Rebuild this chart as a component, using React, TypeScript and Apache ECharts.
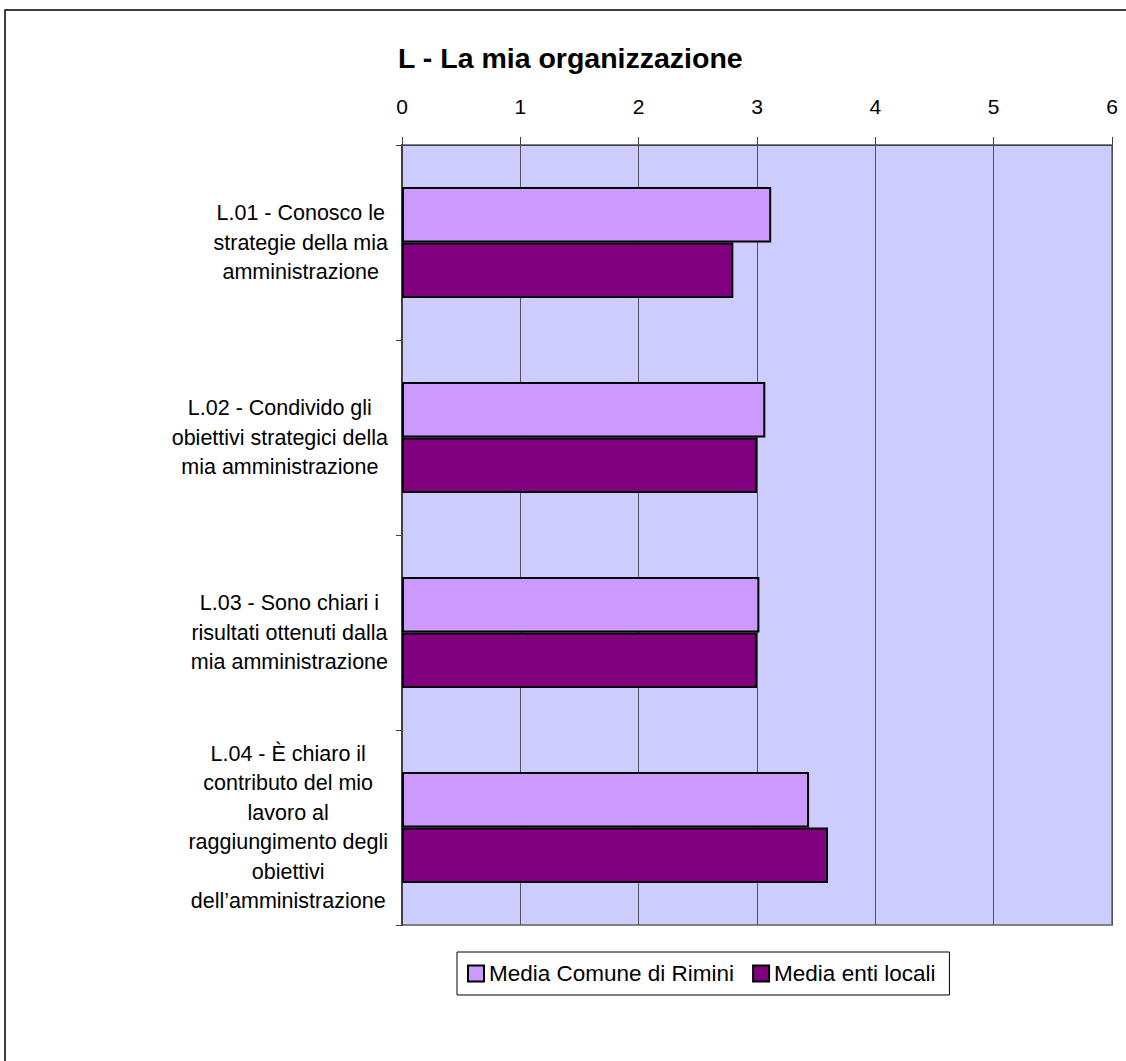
import React, { useEffect, useRef } from "react";
import * as echarts from "echarts";

const categories = [
  "L.01 - Conosco le strategie della mia amministrazione",
  "L.02 - Condivido gli obiettivi strategici della mia amministrazione",
  "L.03 - Sono chiari i risultati ottenuti dalla mia amministrazione",
  "L.04 - È chiaro il contributo del mio lavoro al raggiungimento degli obiettivi dell’amministrazione",
];
const categoryLines = [
  ["L.01 - Conosco le", "strategie della mia", "amministrazione"],
  ["L.02 - Condivido gli", "obiettivi strategici della", "mia amministrazione"],
  ["L.03 - Sono chiari i", "risultati ottenuti dalla", "mia amministrazione"],
  ["L.04 - È chiaro il", "contributo del mio", "lavoro al", "raggiungimento degli", "obiettivi", "dell’amministrazione"],
];
const seriesNames = ["Media Comune di Rimini", "Media enti locali"];
const rimini = [3.12, 3.07, 3.02, 3.44];
const entiLocali = [2.8, 3.0, 3.0, 3.6];
const xTicks = [0, 6, 1];
const titleText = "L - La mia organizzazione";

const FONT = "'Liberation Sans', Arial, sans-serif";

export default function App() {
  const ref = useRef<HTMLDivElement>(null);
  useEffect(() => {
    if (!ref.current) return;
    const chart = echarts.init(ref.current, undefined, { renderer: "svg" });
    chart.setOption({
      animation: false,
      backgroundColor: "#ffffff",
      textStyle: { fontFamily: FONT },
      title: {
        text: titleText,
        left: 398,
        top: 43,
        padding: 0,
        textStyle: { fontFamily: FONT, fontSize: 28.5, fontWeight: "bold", color: "#000" },
      },
      graphic: [
        {
          type: "rect",
          shape: { x: 5, y: 10, width: 1300, height: 1300 },
          style: { fill: "none", stroke: "#000", lineWidth: 1.5 },
          silent: true,
        },
      ],
      legend: {
        left: 457,
        top: 952,
        orient: "horizontal",
        padding: [10, 14, 10, 10],
        borderColor: "#000",
        borderWidth: 1,
        itemWidth: 16,
        itemHeight: 16,
        itemGap: 18,
        icon: "rect",
        textStyle: { fontFamily: FONT, fontSize: 22.5, color: "#000", padding: [0, 0, 0, 0] },
        data: seriesNames,
      },
      grid: {
        left: 402,
        top: 145,
        width: 710,
        height: 780,
        show: true,
        backgroundColor: "#CCCCFF",
        borderColor: "#808080",
        borderWidth: 2,
        containLabel: false,
      },
      xAxis: {
        type: "value",
        position: "top",
        min: xTicks[0],
        max: xTicks[1],
        interval: xTicks[2],
        axisLine: { show: true, lineStyle: { color: "#404040", width: 1 } },
        axisTick: { show: true, length: 8, lineStyle: { color: "#404040" } },
        splitLine: { show: true, lineStyle: { color: "#505060", width: 1 } },
        axisLabel: { fontFamily: FONT, fontSize: 21, color: "#000", margin: 28 },
      },
      yAxis: {
        type: "category",
        inverse: true,
        data: categories,
        axisLine: { show: true, lineStyle: { color: "#404040", width: 2 } },
        axisTick: { show: true, length: 6, lineStyle: { color: "#404040" } },
        axisLabel: {
          margin: 14,
          align: "right",
          formatter: (_v: string, i: number) =>
            categoryLines[i].map((l) => `{c|${l}}`).join("\n"),
          rich: {
            c: { fontFamily: FONT, fontSize: 21.5, lineHeight: 29.5, align: "center", color: "#000" },
          },
        },
      },
      series: [
        {
          name: seriesNames[0],
          type: "bar",
          data: rimini,
          barCategoryGap: "43%",
          barGap: "0%",
          itemStyle: { color: "#CC99FF", borderColor: "#000", borderWidth: 2 },
        },
        {
          name: seriesNames[1],
          type: "bar",
          data: entiLocali,
          barCategoryGap: "43%",
          barGap: "0%",
          itemStyle: { color: "#800080", borderColor: "#000", borderWidth: 2 },
        },
      ],
    });
    return () => chart.dispose();
  }, []);
  return (
    <div
      ref={ref}
      style={{ position: "absolute", left: 0, top: 0, width: 1126, height: 1061 }}
    />
  );
}
